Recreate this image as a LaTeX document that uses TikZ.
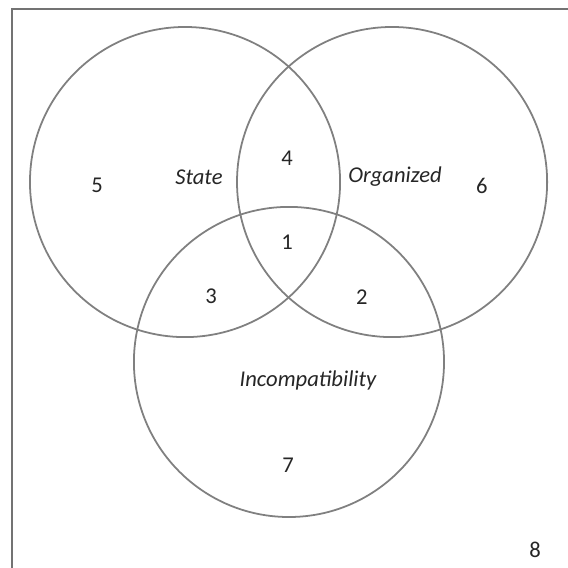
\documentclass[tikz,border=0pt]{standalone}
\usepackage{fontspec}
\setmainfont{Carlito}
\usepackage{tikz}
\tikzset{
  ring/.style={draw=black!50,line width=0.9pt},
  region/.style={text=black!85,font=\fontsize{11.5}{14}\selectfont},
  setname/.style={region,font=\fontsize{11.5}{14}\selectfont\itshape}
}
\begin{document}
\begin{tikzpicture}
\clip (0,0) rectangle (4in,4in);
\fill[white] (0,0) rectangle (4in,4in);
\draw[black!55,line width=1.1pt] (0.085in,-0.2in) -- (0.085in,3.937in) -- (4.2in,3.937in);
\draw[ring] (1.303in,2.718in) circle[radius=1.092in];
\draw[ring] (2.761in,2.718in) circle[radius=1.092in];
\draw[ring] (2.035in,1.451in) circle[radius=1.092in];
\node[setname] (state) at (1.401in,2.754in) {State};
\node[setname] (organized) at (2.782in,2.754in) {Organized};
\node[setname] (incompat) at (2.169in,1.324in) {Incompatibility};
\node[region] (r1) at (2.021in,2.296in) {1};
\node[region] (r2) at (2.549in,1.908in) {2};
\node[region] (r3) at (1.486in,1.915in) {3};
\node[region] (r4) at (2.021in,2.887in) {4};
\node[region] (r5) at (0.683in,2.697in) {5};
\node[region] (r6) at (3.394in,2.690in) {6};
\node[region] (r7) at (2.028in,0.725in) {7};
\node[region] (r8) at (3.768in,0.127in) {8};
\end{tikzpicture}
\end{document}
